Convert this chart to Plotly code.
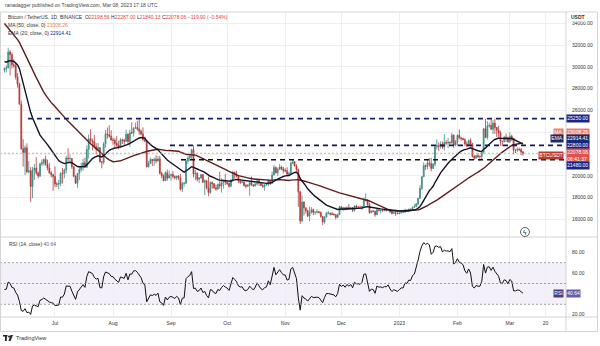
import pandas as pd
import plotly.graph_objects as go

# ---------------------------------------------------------------- data
# Daily BTC/USDT closes before the visible window (Apr 15 - Jun 3, 2022),
# needed to seed the MA(50), EMA(20) and RSI(14) studies.
warmup_close = [
    40550, 40380, 39680, 40800, 41500, 41360, 40480, 39710, 39470, 39450,
    40430, 38110, 39240, 39740, 38600, 37630,
    38470, 38530, 37750, 39690, 36550, 36010, 35470, 34060, 30080, 31010,
    28940, 29050, 29280, 30100, 31300, 29860, 30430, 28700, 30300, 29190,
    29430, 30280, 29100, 29650, 29540, 29200, 28630, 29030, 29470, 31730,
    31800,
    29800, 30450, 29700,
]

# Visible candles, Jun 4 2022 - Mar 8 2023 (daily)
close = [
    # Jun
    29860, 29910, 31370, 31125, 30200, 30110, 29080, 28420, 26570, 22490,
    22140, 22580, 20380, 20470, 19020, 20550, 20720, 20280, 19980, 21100,
    21230, 21500, 21030, 20730, 20280, 20100, 19940,
    # Jul
    19260, 19240, 19300, 20230, 20190, 20550, 21640, 21590, 21600, 20860,
    19970, 19330, 20210, 20590, 20830, 21200, 20790, 22430, 23400, 23230,
    23150, 22680, 22450, 22580, 21300, 21250, 22950, 23850, 23780, 23640,
    23300,
    # Aug
    23270, 22980, 22820, 22620, 23310, 23260, 23170, 23810, 23160, 23950,
    23930, 24400, 24440, 24300, 24100, 23850, 23340, 23190, 20830, 21140,
    21520, 21400, 21530, 21370, 21560, 20240, 20040, 19550, 20290, 19800,
    20050,
    # Sep
    20130, 19950, 19830, 19990, 19800, 18790, 19290, 19320, 21360, 21650,
    21830, 22400, 20180, 20240, 19700, 19800, 20110, 19420, 19540, 18880,
    18480, 19400, 19290, 18920, 18800, 19220, 19080, 19410, 19590, 19420,
    # Oct
    19310, 19060, 19620, 20340, 20160, 19960, 19530, 19420, 19440, 19130,
    19060, 19150, 19380, 19180, 19070, 19260, 19550, 19330, 19120, 19040,
    19170, 19210, 19570, 19330, 20080, 20770, 20290, 20600, 20820, 20630,
    20490,
    # Nov
    20480, 20160, 20210, 21150, 21300, 20900, 20590, 18540, 15880, 17600,
    17070, 16810, 16330, 16620, 16900, 16660, 16690, 16700, 16640, 16280,
    15780, 16230, 16600, 16600, 16520, 16460, 16430, 16210, 16440, 17170,
    # Dec
    16970, 17090, 16890, 17110, 16970, 17090, 16840, 17230, 17130, 17130,
    17090, 17210, 17780, 17810, 17360, 16630, 16780, 16740, 16440, 16900,
    16820, 16830, 16780, 16840, 16830, 16920, 16700, 16550, 16630, 16600,
    16540,
    # Jan
    16610, 16670, 16670, 16850, 16830, 16950, 16940, 17120, 17180, 17440,
    17940, 18850, 19930, 20950, 20870, 21190, 21130, 20680, 21070, 22670,
    22780, 22710, 22920, 22630, 23060, 23010, 23080, 23030, 23740, 22830,
    23130,
    # Feb
    23730, 23490, 23430, 23330, 22930, 22760, 23240, 22960, 21800, 21630,
    21860, 21780, 21780, 22200, 24330, 23520, 24570, 24630, 24280, 24840,
    24440, 24190, 23940, 23180, 23150, 23560, 23490, 23140,
    # Mar
    23630, 23470, 22360, 22350, 22430, 22410, 22198.56, 22078.06,
]

high = [
    29950, 30150, 31760, 31550, 31330, 30700, 30390, 29440, 28550, 26900,
    23360, 22800, 22980, 21370, 20800, 20820, 21080, 21720, 20400, 21200,
    21520, 21600, 21860, 21500, 21200, 20440, 20180,
    20870, 19440, 19640, 20340, 20730, 20670, 21850, 22530, 21950, 21600,
    20870, 20050, 20250, 20880, 21200, 21560, 21680, 22780, 23800, 24280,
    23440, 23760, 23000, 23020, 22650, 21350, 23100, 24200, 24440, 24650,
    24190,
    23510, 23460, 23650, 23220, 23460, 23400, 23400, 24250, 23930, 24230,
    24920, 24450, 24880, 25050, 25210, 24240, 24450, 23600, 23200, 21380,
    21700, 21530, 21680, 21900, 21820, 21850, 20370, 20140, 20420, 20580,
    20490,
    20200, 20450, 20050, 20000, 20060, 20180, 19460, 19450, 21450, 21800,
    21860, 22490, 22790, 20540, 20330, 19890, 20190, 20180, 19690, 19640,
    19950, 19500, 19500, 19310, 19190, 19310, 20380, 19790, 19650, 20180,
    19480, 19400, 19720, 20480, 20370, 20460, 20050, 19620, 19560, 19520,
    19270, 19230, 19510, 19950, 19230, 19420, 19680, 19700, 19350, 19350,
    19250, 19260, 19700, 19600, 20400, 21020, 20870, 20750, 21090, 20930,
    20840,
    20700, 20800, 20400, 21300, 21480, 21370, 21070, 20670, 18600, 18190,
    17650, 17080, 16880, 17190, 17130, 17000, 16740, 16940, 16810, 16740,
    16300, 16290, 16680, 16800, 16600, 16690, 16600, 16480, 16550, 17250,
    17200, 17100, 17100, 17200, 17420, 17110, 17140, 17300, 17360, 17230,
    17270, 17240, 18000, 18390, 17850, 17530, 16800, 16860, 16820, 17060,
    16920, 16870, 16950, 16870, 16860, 16940, 16970, 16780, 16660, 16640,
    16650,
    16630, 16760, 16770, 16990, 16880, 16990, 16970, 17180, 17400, 17490,
    18000, 19120, 19990, 21260, 21040, 21480, 21650, 21650, 21190, 22750,
    23370, 23080, 23170, 23160, 23820, 23290, 23500, 23170, 23960, 23790,
    23310,
    23800, 24260, 23590, 23500, 23440, 23160, 23340, 23450, 23010, 21930,
    21900, 22090, 21890, 22320, 24380, 25250, 25020, 24870, 25190, 25120,
    25250, 24480, 24600, 24130, 23220, 23690, 23880, 23600,
    24000, 23780, 23480, 22420, 22620, 22600, 22550, 22287.00,
]

low = [
    29480, 29500, 29880, 29220, 29840, 29920, 28850, 28100, 26560, 22400,
    20850, 20070, 20230, 20230, 17620, 17960, 19640, 20080, 19770, 19900,
    20900, 20950, 20960, 20500, 20200, 19850, 18630,
    18970, 18980, 18780, 19050, 19300, 19770, 20250, 21200, 21320, 20650,
    19890, 19250, 18910, 19620, 20380, 20480, 20760, 20760, 21580, 23020,
    22340, 22500, 21950, 22270, 21250, 20700, 21050, 22580, 23420, 23500,
    23230,
    22850, 22650, 22680, 22430, 22580, 22920, 22840, 23150, 22880, 22650,
    23850, 23600, 24300, 24150, 23770, 23700, 23180, 23100, 20780, 20760,
    21100, 20900, 20900, 21150, 21320, 20120, 19800, 19520, 19550, 19550,
    19800,
    19560, 19760, 19660, 19610, 19640, 18650, 18520, 19020, 19300, 21110,
    21350, 21550, 19860, 19620, 19500, 19330, 19760, 19370, 18230, 18760,
    18130, 18350, 18820, 18820, 18630, 18690, 18820, 18470, 18840, 19160,
    19160, 18920, 18960, 19500, 19740, 19860, 19320, 19250, 19320, 19030,
    18860, 18990, 18190, 19070, 18980, 19060, 19160, 19100, 19070, 18900,
    18650, 19120, 19070, 19160, 19250, 20050, 20220, 20000, 20560, 20530,
    20220,
    20350, 20050, 20050, 20180, 21080, 20880, 20390, 17170, 15590, 15750,
    16360, 16550, 16230, 15820, 16550, 16400, 16420, 16550, 16550, 16170,
    15480, 15620, 16160, 16460, 16350, 16410, 16400, 16000, 16120, 16430,
    16870, 16780, 16860, 16880, 16870, 16900, 16680, 16730, 17060, 17090,
    17070, 16870, 17080, 17660, 17280, 16530, 16580, 16670, 16260, 16400,
    16750, 16560, 16760, 16780, 16730, 16790, 16590, 16470, 16490, 16330,
    16490,
    16500, 16550, 16620, 16650, 16750, 16670, 16910, 16910, 17100, 17140,
    17310, 17910, 18720, 19890, 20550, 20610, 20850, 20410, 20660, 20880,
    22420, 22290, 22510, 22470, 22330, 22860, 22530, 22880, 22980, 22550,
    22720,
    22760, 23360, 23210, 23260, 22760, 22630, 22740, 22680, 21690, 21460,
    21600, 21630, 21350, 21530, 22050, 23500, 23330, 24450, 24230, 23840,
    23870, 23570, 23580, 22770, 22720, 23070, 23110, 23030,
    23020, 23200, 21970, 22100, 22200, 22270, 21930, 21840.13,
]

# Continuous market: each daily candle opens at the prior close
open_ = [warmup_close[-1]] + close[:-1]

support_resistance = [25250.00, 22800.00, 21480.00]
ma_last, ema_last, rsi_last = 23008.26, 22914.41, 40.64
time_ticks = ["2022-07-01", "2022-08-01", "2022-09-01", "2022-10-01", "2022-11-01",
              "2022-12-01", "2023-01-01", "2023-02-01", "2023-03-01", "2023-03-20"]
time_labels = ["Jul", "Aug", "Sep", "Oct", "Nov", "Dec", "2023", "Feb", "Mar", "20"]
# 22000 / 24000 and RSI 40 sit beneath the value tags, so they are not listed
price_ticks = [16000, 18000, 20000, 26000, 28000, 30000, 32000, 34000]
rsi_ticks = [20, 60, 80]

# ---------------------------------------------------------------- studies
dates = pd.date_range("2022-06-04", periods=len(close), freq="D")
full = pd.Series(warmup_close + close, dtype=float)
n_warm = len(warmup_close)

ma50 = full.rolling(50).mean().iloc[n_warm:].values
ema20 = full.ewm(span=20, adjust=False).mean().iloc[n_warm:].values
delta = full.diff()
gain = delta.clip(lower=0).ewm(alpha=1 / 14, adjust=False).mean()
loss = (-delta.clip(upper=0)).ewm(alpha=1 / 14, adjust=False).mean()
rsi = (100 - 100 / (1 + gain / loss)).iloc[n_warm:].values

# ---------------------------------------------------------------- geometry
W, H = 600, 346
def px(x):
    return x / W
def py(y):
    return 1 - y / H

X_RIGHT = px(566)
MAIN_DOM = [py(237), py(13)]
RSI_DOM = [py(317), py(237)]

FONT = "Liberation Sans, Arial, sans-serif"
TXT = "#333333"
UP = "#3f8d84"
DOWN = "#b23b3b"
NAVY = "#1c2585"
EMA_BG = "#1c2a6b"
SALMON = "#e9806f"
RED = "#e0524c"
PURPLE = "#6a5aa8"

fig = go.Figure()

fig.add_trace(go.Candlestick(
    x=dates, open=open_, high=high, low=low, close=close,
    increasing=dict(line=dict(color=UP, width=0.8), fillcolor=UP),
    decreasing=dict(line=dict(color=DOWN, width=0.8), fillcolor=DOWN),
    whiskerwidth=0, showlegend=False, hoverinfo="skip",
    xaxis="x", yaxis="y",
))
fig.add_trace(go.Scatter(x=dates, y=ma50, mode="lines",
                         line=dict(color="#5e1e1e", width=1.4),
                         showlegend=False, hoverinfo="skip", xaxis="x", yaxis="y"))
fig.add_trace(go.Scatter(x=dates, y=ema20, mode="lines",
                         line=dict(color="#12122a", width=1.4),
                         showlegend=False, hoverinfo="skip", xaxis="x", yaxis="y"))
fig.add_trace(go.Scatter(x=dates, y=rsi, mode="lines",
                         line=dict(color="#111111", width=1),
                         showlegend=False, hoverinfo="skip", xaxis="x2", yaxis="y2"))

x_range = ["2022-06-01 15:00", "2023-03-31 00:00"]
grid = "#eeeeee"

fig.update_layout(
    width=W, height=H, margin=dict(l=0, r=0, t=0, b=0),
    paper_bgcolor="white", plot_bgcolor="white",
    font=dict(family=FONT, size=5, color=TXT),
    showlegend=False,
    xaxis=dict(domain=[0, X_RIGHT], range=x_range, anchor="y",
               tickvals=time_ticks, showticklabels=False, showgrid=True,
               gridcolor=grid, gridwidth=1, zeroline=False,
               rangeslider=dict(visible=False), fixedrange=True),
    yaxis=dict(domain=MAIN_DOM, range=[14394, 34945], side="right", anchor="x",
               tickvals=price_ticks, ticktext=[f"{v:.2f}" for v in price_ticks],
               tickfont=dict(size=5, color=TXT), ticklabelstandoff=5,
               showgrid=True, gridcolor=grid, zeroline=False),
    xaxis2=dict(domain=[0, X_RIGHT], range=x_range, anchor="y2",
                tickvals=time_ticks, ticktext=time_labels,
                tickfont=dict(size=5, color=TXT), ticklabelstandoff=2,
                showgrid=True, gridcolor=grid, zeroline=False),
    yaxis2=dict(domain=RSI_DOM, range=[17.8, 94.7], side="right", anchor="x2",
                tickvals=rsi_ticks, ticktext=[f"{v:.2f}" for v in rsi_ticks],
                tickfont=dict(size=5, color=TXT), ticklabelstandoff=5,
                showgrid=False, zeroline=False),
)

shapes = []
# Horizontal grid lines hidden behind the value tags still run across the pane
for v in (22000, 24000):
    shapes.append(dict(type="line", xref="paper", yref="y", x0=0, x1=X_RIGHT, y0=v, y1=v,
                       line=dict(color=grid, width=1), layer="below"))
# RSI band and guide levels
shapes.append(dict(type="rect", xref="x2 domain", yref="y2", x0=0, x1=1, y0=30, y1=70,
                   fillcolor="rgba(126,87,194,0.09)", line=dict(width=0), layer="below"))
for lvl in (70, 50, 30):
    shapes.append(dict(type="line", xref="x2 domain", yref="y2", x0=0, x1=1, y0=lvl, y1=lvl,
                       line=dict(color="#8a8a8a", width=0.8, dash="2px,2px")))
# Last-price line
shapes.append(dict(type="line", xref="paper", yref="y", x0=0, x1=X_RIGHT,
                   y0=close[-1], y1=close[-1],
                   line=dict(color="#a8a8a8", width=0.8, dash="2px,2px")))
# Horizontal support / resistance levels
starts = [px(28), px(170), px(181)]
colors = ["#18206a", "#141b55", "#111111"]
for lvl, x0, c in zip(support_resistance, starts, colors):
    shapes.append(dict(type="line", xref="paper", yref="y", x0=x0, x1=X_RIGHT,
                       y0=lvl, y1=lvl, line=dict(color=c, width=1.7, dash="5px,4px")))
# Frame, axis separators
frame = "#d5d5d5"
shapes += [
    dict(type="rect", xref="paper", yref="paper", x0=px(0.5), x1=px(597.5),
         y0=py(331.5), y1=py(12), line=dict(color=frame, width=1)),
    dict(type="line", xref="paper", yref="paper", x0=X_RIGHT, x1=X_RIGHT,
         y0=py(331.5), y1=py(12), line=dict(color=frame, width=1)),
    dict(type="line", xref="paper", yref="paper", x0=0, x1=px(597.5),
         y0=py(317), y1=py(317), line=dict(color=frame, width=1)),
    dict(type="line", xref="paper", yref="paper", x0=0, x1=px(597.5),
         y0=py(237), y1=py(237), line=dict(color=frame, width=1)),
]
# Event marker
shapes.append(dict(type="circle", xref="paper", yref="paper",
                   x0=px(520.5), x1=px(529.5), y0=py(236.5), y1=py(227.5),
                   line=dict(color="#333333", width=0.8), fillcolor="white"))
# TradingView mark
shapes += [
    dict(type="rect", xref="paper", yref="paper", x0=px(3), x1=px(7.5), y0=py(336.5), y1=py(335),
         fillcolor="#222", line=dict(width=0)),
    dict(type="rect", xref="paper", yref="paper", x0=px(5), x1=px(6.8), y0=py(341), y1=py(335),
         fillcolor="#222", line=dict(width=0)),
    dict(type="circle", xref="paper", yref="paper", x0=px(8), x1=px(10), y0=py(337.5), y1=py(335.5),
         fillcolor="#222", line=dict(width=0)),
    dict(type="path", xref="paper", yref="paper",
         path=f"M {px(10.5)},{py(335)} L {px(13)},{py(335)} L {px(10.5)},{py(341)} L {px(8.5)},{py(341)} Z",
         fillcolor="#222", line=dict(width=0)),
]
fig.update_layout(shapes=shapes)

ann = []
def text(x, y, s, size=5, color=TXT, anchor="left"):
    ann.append(dict(xref="paper", yref="paper", x=px(x), y=py(y), text=s, showarrow=False,
                    xanchor=anchor, yanchor="middle", font=dict(size=size, color=color, family=FONT)))

text(3, 5, "ranadagger published on TradingView.com, Mar 08, 2023 17:18 UTC", color="#444")
r = "#e0433b"
text(6, 17, "Bitcoin / TetherUS, 1D, BINANCE  "
     f"O<span style='color:{r}'>22198.56</span> H<span style='color:{r}'>22287.00</span> "
     f"L<span style='color:{r}'>21840.13</span> C<span style='color:{r}'>22078.06</span> "
     f"<span style='color:{r}'>\u2212119.90 (\u22120.54%)</span>")
text(6, 25, f"MA (50, close, 0) <span style='color:{SALMON}'>{ma_last:.2f}</span>")
text(6, 32.5, f"EMA (20, close, 0) <span style='color:{EMA_BG}'>{ema_last:.2f}</span>")
text(7, 244, f"RSI (14, close) <span style='color:{PURPLE}'>{rsi_last:.2f}</span>")
text(14, 338, "TradingView", size=5.5, color="#333")
text(525, 232, "\u03df", size=6.5, color="#222", anchor="center")
ann.append(dict(xref="paper", yref="paper", x=px(569), y=py(17), text="<b>USDT</b>",
                showarrow=False, xanchor="left", yanchor="middle", bgcolor="white",
                borderpad=1, font=dict(size=5, color=TXT, family=FONT)))

def box(y, s, bg, yref="y", yshift=0, tag=None, tagbg=None):
    ann.append(dict(xref="paper", yref=yref, x=X_RIGHT, y=y, yshift=yshift, text=s,
                    showarrow=False, xanchor="left", yanchor="middle", bgcolor=bg,
                    borderpad=0.3, align="left", font=dict(size=5, color="white", family=FONT)))
    if tag:
        ann.append(dict(xref="paper", yref=yref, x=px(564), y=y, yshift=yshift, text=tag,
                        showarrow=False, xanchor="right", yanchor="middle", bgcolor=tagbg,
                        borderpad=0.3, font=dict(size=5, color="white", family=FONT)))

# Price-scale tags; stacked ones are nudged apart (yshift, in px) like the platform does
box(support_resistance[0], f"{support_resistance[0]:.2f}", NAVY)
box(ma_last, f"{ma_last:.2f}", SALMON, yshift=10.8, tag="MA", tagbg=SALMON)
box(ema_last, f"{ema_last:.2f}", EMA_BG, yshift=5.2, tag="EMA", tagbg=EMA_BG)
box(support_resistance[1], f"{support_resistance[1]:.2f}", NAVY)
box(close[-1], f"{close[-1]:.2f}<br>06:41:37", RED, yshift=-2.2, tag="BTCUSDT", tagbg="#b83a35")
box(support_resistance[2], f"{support_resistance[2]:.2f}", NAVY, yshift=-6.2)
box(rsi_last, f"{rsi_last:.2f}", PURPLE, yref="y2", tag="RSI", tagbg="#4a3d7a")
fig.update_layout(annotations=ann)

fig.write_html("out.html")
